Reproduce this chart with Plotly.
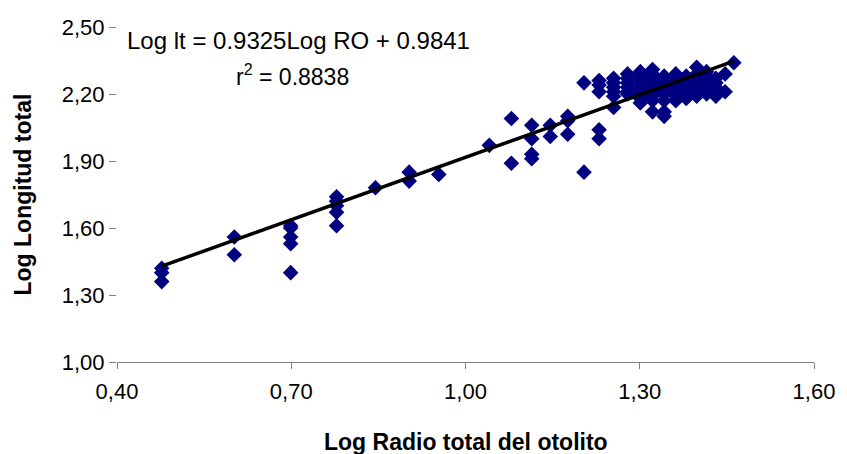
import plotly.graph_objects as go

# Log otolith radius (x) and log total length (y)
log_ro = [
    0.477, 0.477, 0.477,
    0.602, 0.602,
    0.699, 0.699, 0.699, 0.699, 0.699,
    0.778, 0.778, 0.778, 0.778, 0.778,
    0.845,
    0.903, 0.903,
    0.954,
    1.041,
    1.079, 1.079,
    1.114, 1.114, 1.114, 1.114,
    1.146, 1.146,
    1.176, 1.176, 1.176,
    1.204, 1.204,
    1.230, 1.230, 1.230, 1.230, 1.230,
    1.255, 1.255, 1.255, 1.255, 1.255, 1.255,
    1.279, 1.279, 1.279, 1.279, 1.279, 1.279,
    1.301, 1.301, 1.301, 1.301, 1.301, 1.301, 1.301, 1.301,
    1.322, 1.322, 1.322, 1.322, 1.322, 1.322, 1.322, 1.322, 1.322,
    1.342, 1.342, 1.342, 1.342, 1.342, 1.342, 1.342, 1.342,
    1.362, 1.362, 1.362, 1.362, 1.362, 1.362, 1.362,
    1.380, 1.380, 1.380, 1.380, 1.380, 1.380,
    1.398, 1.398, 1.398, 1.398, 1.398, 1.398, 1.398,
    1.415, 1.415, 1.415, 1.415, 1.415, 1.415,
    1.431, 1.431, 1.431, 1.431, 1.431,
    1.447, 1.447,
    1.462,
]
log_lt = [
    1.42, 1.40, 1.36,
    1.56, 1.48,
    1.61, 1.60, 1.56, 1.53, 1.40,
    1.74, 1.72, 1.70, 1.67, 1.61,
    1.78,
    1.85, 1.81,
    1.84,
    1.97,
    2.09, 1.89,
    2.06, 2.00, 1.93, 1.91,
    2.06, 2.01,
    2.10, 2.08, 2.02,
    2.25, 1.85,
    2.26, 2.24, 2.21, 2.04, 2.00,
    2.27, 2.25, 2.23, 2.21, 2.19, 2.14,
    2.29, 2.27, 2.25, 2.23, 2.21, 2.20,
    2.30, 2.28, 2.26, 2.24, 2.22, 2.20, 2.18, 2.16,
    2.31, 2.29, 2.27, 2.25, 2.23, 2.21, 2.19, 2.17, 2.12,
    2.28, 2.26, 2.24, 2.22, 2.20, 2.17, 2.12, 2.10,
    2.29, 2.27, 2.25, 2.23, 2.21, 2.19, 2.17,
    2.28, 2.26, 2.24, 2.22, 2.20, 2.18,
    2.32, 2.29, 2.27, 2.25, 2.23, 2.21, 2.19,
    2.30, 2.28, 2.26, 2.24, 2.22, 2.20,
    2.27, 2.25, 2.23, 2.21, 2.19,
    2.29, 2.21,
    2.34,
]

slope = 0.9325
intercept = 0.9841
r2 = 0.8838

x_ticks = [0.40, 0.70, 1.00, 1.30, 1.60]
y_ticks = [1.00, 1.30, 1.60, 1.90, 2.20, 2.50]

x_line = [min(log_ro), max(log_ro)]
y_line = [slope * v + intercept for v in x_line]

FONT = "Liberation Sans, Arial, sans-serif"

fig = go.Figure()
fig.add_trace(go.Scatter(
    x=log_ro, y=log_lt, mode="markers",
    marker=dict(symbol="diamond", size=12, color="#000080", line=dict(width=0)),
    showlegend=False, hoverinfo="skip",
))
fig.add_trace(go.Scatter(
    x=x_line, y=y_line, mode="lines",
    line=dict(color="black", width=3.5),
    showlegend=False, hoverinfo="skip",
))

fig.update_layout(
    width=847, height=454,
    margin=dict(l=117, r=23, t=27, b=92),
    paper_bgcolor="white", plot_bgcolor="white",
    separators=",.",
    font=dict(family=FONT, color="black", size=22),
    xaxis=dict(
        range=[0.4, 1.6], tickvals=x_ticks, tickformat=".2f",
        showgrid=False, zeroline=False,
        showline=True, linecolor="#808080", linewidth=1,
        ticks="outside", ticklen=6, tickcolor="#808080",
        ticklabelstandoff=4,
        tickfont=dict(size=22), title=None,
    ),
    yaxis=dict(
        range=[1.0, 2.5], tickvals=y_ticks, tickformat=".2f",
        showgrid=False, zeroline=False,
        showline=False,
        ticks="outside", ticklen=7, tickcolor="#808080",
        tickfont=dict(size=22), title=None,
    ),
    annotations=[
        dict(text="<b>Log Radio total del otolito</b>", xref="paper", yref="paper",
             x=0.5, y=0, yshift=-80, xanchor="center", yanchor="middle",
             showarrow=False, font=dict(size=23)),
        dict(text="<b>Log Longitud total</b>", xref="paper", yref="paper",
             x=0, xshift=-95, y=0.5, xanchor="center", yanchor="middle",
             textangle=-90, showarrow=False, font=dict(size=23)),
        dict(text=f"Log lt = {slope}Log RO + {intercept}", xref="x", yref="paper",
             x=0.40, xshift=8, y=1, yshift=-13, xanchor="left", yanchor="middle",
             showarrow=False, font=dict(size=24)),
        dict(text=f"r<sup>2</sup> = {r2}", xref="x", yref="paper",
             x=0.40, xshift=175, y=1, yshift=-48, xanchor="center", yanchor="middle",
             showarrow=False, font=dict(size=23)),
    ],
)

fig.write_html("out.html")
